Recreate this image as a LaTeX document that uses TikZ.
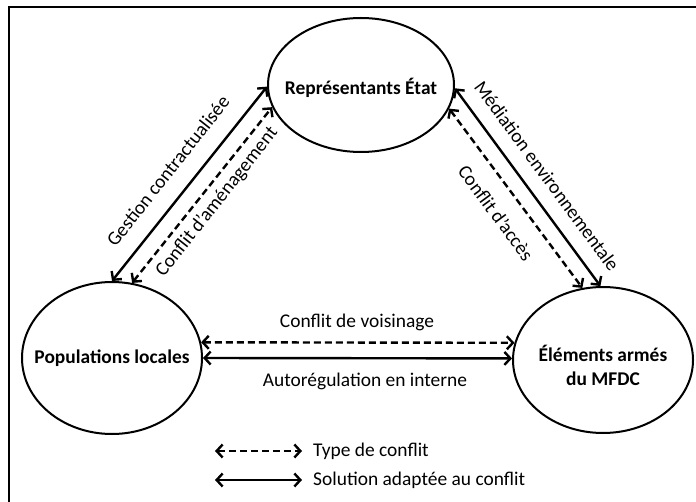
\documentclass[tikz,border=0pt]{standalone}
\usepackage{fontspec}
\setmainfont{Carlito}
\usetikzlibrary{arrows.meta,shapes.geometric}
\begin{document}
\begin{tikzpicture}[x=1bp,y=-1bp,
  >={Straight Barb[length=6bp,width=13bp]},
  ell/.style={draw, ellipse, line width=2bp, inner sep=0pt},
  bold/.style={font=\bfseries\fontsize{19.5}{24}\selectfont, align=center, inner sep=0pt},
  lbl/.style={font=\fontsize{19.5}{23}\selectfont, inner sep=0pt},
  sol/.style={line width=2.4bp, <->},
  dsh/.style={sol, dash pattern=on 7bp off 4bp}]
\useasboundingbox (0,0) rectangle (696,502);
\begin{scope}
\clip (0,0) rectangle (696,502);
\draw[line width=2.5bp] (9,520) -- (9,7) -- (720,7);
\end{scope}
\node[ell, minimum width=186bp, minimum height=134bp] (etat) at (361,85) {};
\node[ell, minimum width=180bp, minimum height=152bp] (pop) at (112,358) {};
\node[ell, minimum width=180bp, minimum height=146bp] (mfdc) at (603,360) {};
\node[bold] (etatT) at (361,88) {Représentants État};
\node[bold] (popT) at (112,358) {Populations locales};
\node[bold] (mfdcT) at (603,365) {Éléments armés\\du MFDC};
\draw[sol] (pop.90) -- (etat.181);
\draw[dsh] (pop.75) -- (etat.194);
\draw[sol] (etat.-2) -- (mfdc.92);
\draw[dsh] (etat.-15) -- (mfdc.106);
\draw[dsh] (pop.10) -- (mfdc.169);
\draw[sol] (pop.0) -- (mfdc.179);
\node[lbl, rotate=51.7] (g) at (168,171) {Gestion contractualisée};
\node[lbl, rotate=51.7] (a) at (217,202) {Conflit d'aménagement};
\node[lbl, rotate=-53.7] (m) at (547,176) {Médiation environnementale};
\node[lbl, rotate=-53.7] (c) at (496,213) {Conflit d'accès};
\node[lbl] (v) at (357,322) {Conflit de voisinage};
\node[lbl] (r) at (365,381) {Autorégulation en interne};
\coordinate (l1a) at (215,451);
\coordinate (l1b) at (302,451);
\coordinate (l2a) at (215,480);
\coordinate (l2b) at (302,480);
\draw[dsh] (l1a) -- (l1b);
\draw[sol] (l2a) -- (l2b);
\node[lbl, anchor=west] (t1) at (313,451) {Type de conflit};
\node[lbl, anchor=west] (t2) at (313,480) {Solution adaptée au conflit};
\end{tikzpicture}
\end{document}
